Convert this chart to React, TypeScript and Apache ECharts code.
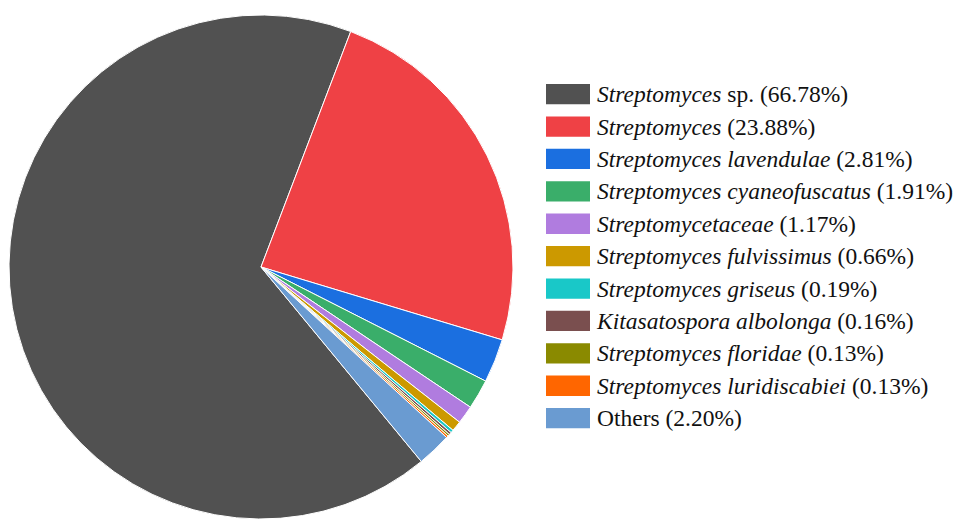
import React, { useEffect, useRef } from "react";
import * as echarts from "echarts";

const taxa = [
  "Streptomyces sp.",
  "Streptomyces",
  "Streptomyces lavendulae",
  "Streptomyces cyaneofuscatus",
  "Streptomycetaceae",
  "Streptomyces fulvissimus",
  "Streptomyces griseus",
  "Kitasatospora albolonga",
  "Streptomyces floridae",
  "Streptomyces luridiscabiei",
  "Others",
];
const italicParts = [
  "Streptomyces",
  "Streptomyces",
  "Streptomyces lavendulae",
  "Streptomyces cyaneofuscatus",
  "Streptomycetaceae",
  "Streptomyces fulvissimus",
  "Streptomyces griseus",
  "Kitasatospora albolonga",
  "Streptomyces floridae",
  "Streptomyces luridiscabiei",
  "",
];
const plainParts = ["sp.", "", "", "", "", "", "", "", "", "", "Others"];
const percents = [66.78, 23.88, 2.81, 1.91, 1.17, 0.66, 0.19, 0.16, 0.13, 0.13, 2.2];
const colors = [
  "#515151",
  "#EF4145",
  "#1B6FE0",
  "#3AAE6A",
  "#B07CDF",
  "#CC9900",
  "#19C8C8",
  "#7A4F4F",
  "#8A8A00",
  "#FF6600",
  "#6A9BD1",
];

const FONT_FAMILY = "Liberation Serif";
const FONT_SIZE = 23.5;
const ITALIC_FONT = `italic ${FONT_SIZE}px ${FONT_FAMILY}`;
const NORMAL_FONT = `normal ${FONT_SIZE}px ${FONT_FAMILY}`;

function measure(text: string, font: string): number {
  const c = document.createElement("canvas").getContext("2d");
  if (!c) return text.length * FONT_SIZE * 0.45;
  c.font = font;
  return c.measureText(text).width;
}

export default function App() {
  const ref = useRef<HTMLDivElement>(null);
  useEffect(() => {
    if (!ref.current) return;
    const chart = echarts.init(ref.current, undefined, { renderer: "svg" });

    const legendLeft = 546;
    const legendTop = 84;
    const rowStep = 32.4;
    const boxW = 44;
    const boxH = 20.3;
    const textX = 51;
    const spaceW = measure(" ", NORMAL_FONT);

    const legendRows = taxa.map((name, i) => {
      const it = italicParts[i];
      const pl = plainParts[i];
      const rest = (pl ? pl + " " : "") + "(" + percents[i].toFixed(2) + "%)";
      const children: any[] = [
        {
          type: "rect",
          shape: { x: 0, y: 0, width: boxW, height: boxH },
          style: { fill: colors[i] },
        },
      ];
      let x = textX;
      if (it) {
        children.push({
          type: "text",
          x,
          y: boxH / 2,
          style: { text: it, font: ITALIC_FONT, fill: "#111111", verticalAlign: "middle", align: "left" },
        });
        x += measure(it, ITALIC_FONT) + spaceW;
      }
      children.push({
        type: "text",
        x,
        y: boxH / 2,
        style: { text: rest, font: NORMAL_FONT, fill: "#111111", verticalAlign: "middle", align: "left" },
      });
      return {
        type: "group",
        name,
        x: legendLeft,
        y: legendTop + i * rowStep,
        children,
      };
    });

    chart.setOption({
      animation: false,
      backgroundColor: "#ffffff",
      graphic: legendRows,
      series: [
        {
          type: "pie",
          center: [261, 267],
          radius: [0, 252],
          startAngle: -50.5,
          clockwise: true,
          label: { show: false },
          labelLine: { show: false },
          emphasis: { disabled: true },
          itemStyle: { borderColor: "#ffffff", borderWidth: 1 },
          data: taxa.map((n, i) => ({
            name: n,
            value: percents[i],
            itemStyle: { color: colors[i] },
          })),
        },
      ],
    });
    return () => chart.dispose();
  }, []);
  return <div ref={ref} style={{ width: 964, height: 520, position: "fixed", left: 0, top: 0 }} />;
}
